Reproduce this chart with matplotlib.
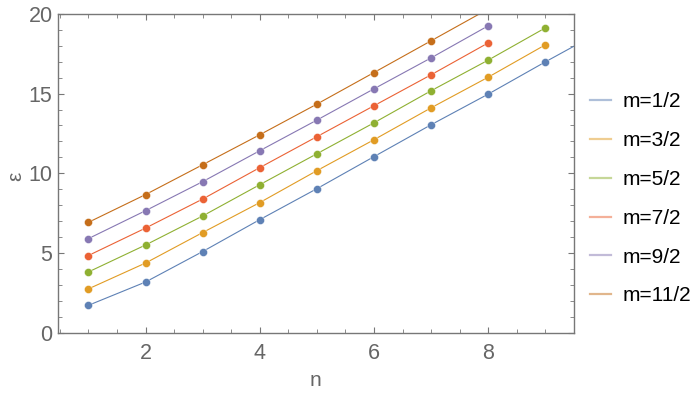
import matplotlib
matplotlib.use("Agg")
import matplotlib.pyplot as plt
from matplotlib.ticker import MultipleLocator
from matplotlib.lines import Line2D

plt.rcParams['font.family'] = ['Liberation Sans', 'DejaVu Sans']

# energies, one list per m
n_vals = [1, 2, 3, 4, 5, 6, 7, 8, 9, 10]
e_m1 = [1.73, 3.19, 5.10, 7.10, 9.04, 11.05, 13.05, 14.97, 16.99, 18.95]
e_m3 = [2.76, 4.38, 6.29, 8.17, 10.17, 12.11, 14.11, 16.03, 18.06]
e_m5 = [3.82, 5.51, 7.33, 9.29, 11.23, 13.17, 15.18, 17.10, 19.12]
e_m7 = [4.85, 6.57, 8.39, 10.36, 12.30, 14.24, 16.18, 18.18]
e_m9 = [5.91, 7.66, 9.48, 11.42, 13.34, 15.30, 17.24, 19.25]
e_m11 = [6.93, 8.67, 10.54, 12.42, 14.34, 16.32, 18.31, 20.30]

labels = ["m=1/2", "m=3/2", "m=5/2", "m=7/2", "m=9/2", "m=11/2"]
series = [e_m1, e_m3, e_m5, e_m7, e_m9, e_m11]
colors = ["#5E81B5", "#E19C24", "#8FB032", "#EB6235", "#8778B3", "#C56E1A"]

fig = plt.figure(figsize=(7, 3.94), dpi=100)
ax = fig.add_axes([0.083, 0.155, 0.737, 0.81])

for ys, c in zip(series, colors):
    ax.plot(n_vals[:len(ys)], ys, color=c, lw=0.8, marker='o', ms=5.8,
            mec='white', mew=0.3)

ax.set_xlim(0.47, 9.5)
ax.set_ylim(0, 20)

ax.xaxis.set_major_locator(MultipleLocator(2))
ax.xaxis.set_minor_locator(MultipleLocator(0.5))
ax.yaxis.set_major_locator(MultipleLocator(5))
ax.yaxis.set_minor_locator(MultipleLocator(1))

gray = "#666666"
for s in ax.spines.values():
    s.set_color("#777777")
    s.set_linewidth(1.0)
ax.tick_params(which='both', direction='in', color="#777777", top=True, right=True,
               labelcolor=gray, labelsize=15.5)
ax.tick_params(which='major', length=4.5, width=0.8)
ax.tick_params(which='minor', length=3, width=0.6)
ax.tick_params(axis='x', pad=7)
ax.tick_params(axis='y', pad=4)

# axis labels placed where the reference has them
fig.text(16 / 700, 1 - 176 / 394, "ε", color=gray, fontsize=15, rotation=90,
         ha='center', va='center')
fig.text(315 / 700, 1 - 380 / 394, "n", color=gray, fontsize=15,
         ha='center', va='center')

handles = [Line2D([0], [0], color=c, lw=1.6, alpha=0.5) for c in colors]
fig.legend(handles, labels, loc='center left', bbox_to_anchor=(0.843, 0.495),
           frameon=False, fontsize=15, handlelength=1.0, handletextpad=0.55,
           labelspacing=0.95, borderpad=0, borderaxespad=0)

fig.savefig("out.png", dpi=100)
